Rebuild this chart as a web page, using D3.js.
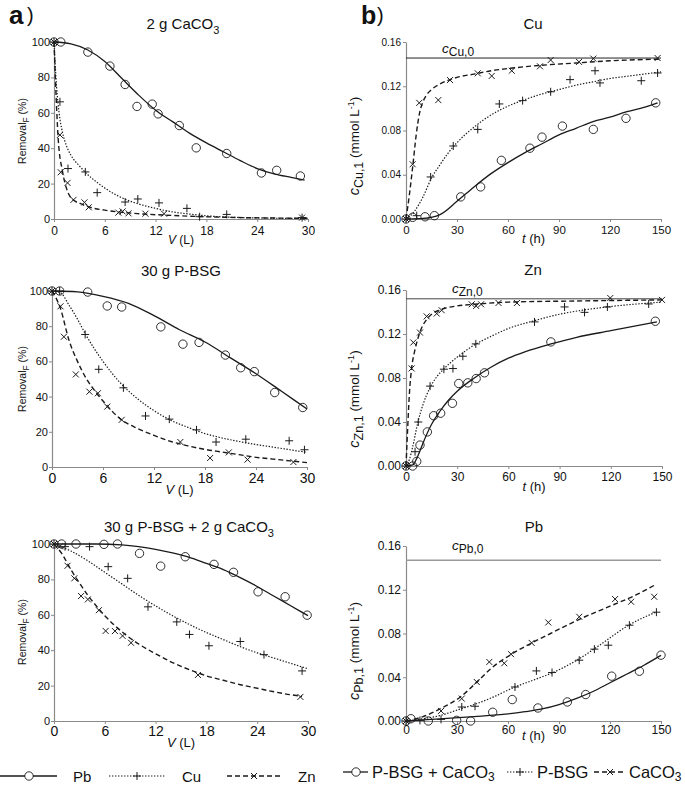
<!DOCTYPE html>
<html><head><meta charset="utf-8">
<script src="https://cdn.jsdelivr.net/npm/d3@7"></script>
<style>
body{margin:0;background:#fff}
svg{display:block}
text{font-family:"Liberation Sans",Arial,sans-serif;fill:#111}
</style>
</head><body><script>
// ---------- tick values ----------
const ticksV = [0, 6, 12, 18, 24, 30];
const ticksT = [0, 30, 60, 90, 120, 150];
const ticksR = [0, 20, 40, 60, 80, 100];
const ticksC = [0, 0.04, 0.08, 0.12, 0.16];

// ---------- panel a1: 2 g CaCO3 (V in L, RemovalF in %) ----------
const a1PbPts = [[0,100],[0.8,100],[4.0,94.3],[6.6,86.4],[8.4,76],[9.8,63.6],[11.6,64.9],[12.3,59.4],[14.8,52.8],[16.8,40.2],[20.4,37],[24.5,26],[26.3,27.5],[29.1,24.3]];
const a1PbFit = [[0,100],[2,99],[4,95.5],[6,89],[8,79.5],[10,70],[12,61.5],[14,55],[16,48.5],[18,43],[20,38],[22,33],[24,28.5],[26,25.5],[28,23.5],[29.6,22]];
const a1CuPts = [[0,100],[0.7,66.2],[1.65,28.5],[3.7,26.6],[5.1,14.9],[8.4,9.6],[9.9,11.3],[12.4,9.1],[15.7,6.0],[17.2,1.3],[20.4,2.6],[29.3,0.8]];
const a1CuFit = [[0,100],[0.3,75],[0.6,60],[1,49],[1.5,41],[2,36],[3,30],[4,25],[5,21],[6,17.5],[8,12],[10,8.5],[12,6],[14,4],[16,2.8],[18,1.8],[20,1.2],[24,0.6],[30,0.3]];
const a1ZnPts = [[0,100],[0.7,47.5],[0.8,26.4],[1.6,20.4],[2.3,10.8],[3.6,9.4],[4.1,6.6],[7.6,3.6],[8.1,4.3],[8.8,3.2],[10.8,3],[13,3],[29.3,0.8]];
const a1ZnFit = [[0,100],[0.2,75],[0.5,45],[1,27],[1.5,17],[2,12],[3,9],[4,7],[6,5],[8,3.8],[10,3],[14,2],[20,1],[30,0.4]];

// ---------- panel a2: 30 g P-BSG ----------
const a2PbPts = [[0,100],[0.9,100],[4.2,99.4],[6.5,91.5],[8.2,90.9],[12.8,79.6],[15.4,69.8],[17.3,70.8],[20.4,63.6],[22.2,56.4],[23.8,54.2],[26.2,42.3],[29.5,33.8]];
const a2PbFit = [[0,100],[3,99.5],[6,97],[9,93],[12,86],[15,78],[18,71],[21,62],[24,53],[27,43],[30,33]];
const a2CuPts = [[0,100],[0.9,100],[3.9,75.3],[5.5,55.5],[8.4,45],[11,29],[13.8,27.2],[17,21.1],[19.3,14.2],[22.8,15.8],[27.9,14.9],[29.7,9.8]];
const a2CuFit = [[0,100],[1,99],[2,92],[3,84],[4,75],[6,60],[8,48],[10,39],[12,32],[14,26.5],[16,22.5],[18,19],[20,16.5],[22,14.5],[24,12.8],[26,11.3],[28,9.8],[30,8.3]];
const a2ZnPts = [[0,100],[1.0,91.3],[1.4,74],[2.8,52.6],[4.4,42.8],[5.4,41.9],[6.5,34.3],[8.2,26.8],[15.1,14.2],[18.6,5.1],[20.8,8.3],[23,4.2],[28.4,2.8]];
const a2ZnFit = [[0,100],[1,90],[2,72],[3,60],[4,50.5],[5,43.5],[6,37.5],[8,27.5],[10,22],[12,18],[14,14.5],[16,12],[18,10],[20,8.5],[22,7],[24,5.5],[26,4.5],[28,3.5],[30,2.5]];

// ---------- panel a3: 30 g P-BSG + 2 g CaCO3 ----------
const a3PbPts = [[0,100],[0.9,100],[2.6,100],[5.9,99.8],[7.5,100],[10.1,94.7],[12.6,87.5],[15.5,92.8],[18.9,88.5],[21.2,84],[24.1,73],[27.3,70.2],[29.9,59.8]];
const a3PbFit = [[0,100],[5,100],[8,99.5],[10,98.5],[12,97],[14,95],[16,92.5],[18,89],[20,85.5],[22,81],[24,76],[26,70.5],[28,65],[30,59.5]];
const a3CuPts = [[0,100],[1.3,98.5],[4.2,98.5],[6.4,87.2],[8.7,80.6],[11.1,64.5],[14.5,56],[16,48.9],[18.3,42.5],[22,44.9],[24.8,37.5],[29.3,28.3]];
const a3CuFit = [[0,100],[2,96],[4,90.5],[6,84],[8,77.5],[10,71],[12,65],[14,59.5],[16,54.5],[18,50],[20,46],[22,42],[24,38.5],[26,35.5],[28,32.5],[30,29.5]];
const a3ZnPts = [[0,100],[0.7,98.7],[1.6,87.7],[2.4,80.6],[3.2,70.6],[4,68.7],[5.3,62.6],[6.1,50.9],[7.2,50.8],[8.1,48.1],[9.1,44.2],[17,26],[29.1,13.6]];
const a3ZnFit = [[0,100],[1,94],[2,85.5],[3,78],[4,71],[5,65],[6,59.5],[8,50.5],[10,43.5],[12,38],[14,33],[16,29],[18,25.5],[20,23],[22,20.5],[24,18.5],[26,16.5],[28,14.8],[29.3,14]];

// ---------- panel b1: Cu (t in h, c in mmol/L) ----------
const b1C0 = 0.1455;
const b1BothPts = [[0,0],[3.9,0.0015],[11.2,0.002],[16.7,0.003],[32.2,0.020],[43.9,0.029],[56.1,0.053],[72.9,0.064],[80,0.074],[92,0.084],[110.2,0.081],[129.4,0.091],[146.9,0.105]];
const b1BothFit = [[0,0],[10,0.0005],[20,0.004],[30,0.016],[40,0.029],[50,0.041],[60,0.051],[70,0.060],[80,0.068],[90,0.076],[100,0.082],[110,0.088],[120,0.092],[130,0.097],[140,0.101],[148,0.105]];
const b1BsgPts = [[0,0],[6.3,0.003],[14.5,0.038],[27.8,0.066],[42.2,0.081],[54.9,0.104],[68.6,0.107],[85.1,0.115],[96.5,0.126],[111.2,0.134],[114.1,0.123],[138.4,0.125],[148,0.132]];
const b1BsgFit = [[0,0],[5,0.007],[10,0.02],[15,0.037],[20,0.049],[25,0.060],[30,0.069],[40,0.083],[50,0.094],[60,0.102],[70,0.108],[80,0.113],[90,0.117],[100,0.121],[110,0.124],[120,0.127],[130,0.129],[140,0.131],[150,0.133]];
const b1CaPts = [[0,0],[3.9,0.0495],[7.8,0.105],[19,0.1075],[25.9,0.1256],[42.2,0.1317],[50.4,0.1293],[62.2,0.134],[78.8,0.138],[85.1,0.1437],[101.8,0.142],[110.2,0.145],[148,0.1455]];
const b1CaFit = [[0,0],[2,0.022],[4,0.048],[6,0.076],[8,0.096],[10,0.106],[12,0.112],[15,0.117],[20,0.122],[30,0.128],[40,0.131],[50,0.134],[60,0.136],[80,0.139],[100,0.141],[120,0.143],[150,0.1445]];

// ---------- panel b2: Zn ----------
const b2C0 = 0.152;
const b2BothPts = [[0,0],[3.9,0],[6.3,0.0042],[8.2,0.019],[12.5,0.031],[16.2,0.0457],[20.3,0.048],[27.2,0.057],[30.9,0.075],[36.2,0.0756],[41.1,0.0795],[46,0.0847],[84.9,0.1128],[146.1,0.1316]];
const b2BothFit = [[0,0],[4,0.001],[6,0.006],[8,0.013],[10,0.021],[15,0.038],[20,0.050],[25,0.060],[30,0.068],[40,0.080],[50,0.090],[60,0.098],[70,0.104],[85,0.111],[100,0.117],[120,0.123],[147,0.131]];
const b2BsgPts = [[0,0],[5.3,0.013],[7.2,0.040],[14.1,0.0726],[22.2,0.088],[27.5,0.0886],[33.3,0.0998],[40.9,0.111],[75.3,0.131],[92.9,0.1446],[104.6,0.1397],[118,0.1446],[142.2,0.1473]];
const b2BsgFit = [[0,0],[2,0.006],[4,0.018],[7,0.040],[10,0.056],[14,0.071],[18,0.081],[22,0.088],[30,0.099],[40,0.110],[50,0.118],[60,0.125],[75,0.132],[90,0.138],[105,0.142],[120,0.145],[150,0.149]];
const b2CaPts = [[0,0],[3.3,0.0887],[4.3,0.1123],[8.2,0.1213],[12.1,0.136],[18,0.1386],[20.9,0.1416],[38.5,0.147],[41.1,0.1455],[44,0.147],[54.2,0.1482],[65,0.1482],[119.7,0.1527],[150,0.151]];
const b2CaFit = [[0,0],[1,0.035],[2,0.066],[3.3,0.089],[5,0.104],[7,0.116],[9,0.125],[12,0.133],[15,0.138],[20,0.142],[30,0.1455],[40,0.147],[60,0.149],[100,0.150],[150,0.151]];

// ---------- panel b3: Pb ----------
const b3C0 = 0.147;
const b3BothPts = [[0,0],[2.9,0.0021],[13.1,0],[29.8,0.0006],[38,0],[51,0.008],[62.5,0.0196],[77.6,0.0119],[94.9,0.0174],[105.7,0.0242],[121,0.041],[137.3,0.0455],[150,0.0602]];
const b3BothFit = [[0,0],[20,0.002],[40,0.004],[60,0.0065],[70,0.0085],[80,0.011],[90,0.015],[100,0.0205],[110,0.027],[120,0.035],[130,0.043],[140,0.051],[150,0.060]];
const b3BsgPts = [[0,0],[8.2,0.0006],[20.6,0.0015],[32.8,0.0128],[40.6,0.0135],[64.1,0.0311],[76.7,0.0458],[85.9,0.0443],[101.9,0.0556],[110.8,0.0657],[119,0.0693],[131.4,0.0876],[147.3,0.0995]];
const b3BsgFit = [[0,0],[10,0.002],[20,0.005],[32,0.011],[40,0.015],[50,0.021],[64,0.031],[76,0.038],[86,0.044],[102,0.057],[115,0.0705],[131,0.0876],[147,0.0995]];
const b3CaPts = [[0,0],[20.6,0.0092],[32.8,0.0205],[41.6,0.0357],[49,0.054],[57.8,0.0528],[61.8,0.0611],[73.9,0.0714],[83.7,0.0901],[101.9,0.0953],[123,0.1115],[132.4,0.109],[146,0.1136]];
const b3CaFit = [[0,0],[10,0.004],[20,0.011],[32,0.022],[42,0.036],[50,0.048],[62,0.061],[74,0.0714],[85,0.080],[102,0.093],[120,0.105],[135,0.115],[146,0.124]];

// ---------- legend labels ----------
const legendLeft = ["Pb", "Cu", "Zn"];
const legendRight = [[{t:"P-BSG + CaCO"},{t:"3",sub:1,sh:2.5}], [{t:"P-BSG"}], [{t:"CaCO"},{t:"3",sub:1,sh:2.5}]];

// =====================================================================
const svg = d3.select("body").append("svg").attr("width", 685).attr("height", 785);
const INK = "#1a1a1a", AX = "#8a8a8a";
const styles = {
  circle: {dash: null, w: 1.3},
  plus:   {dash: "1.4,1.6", w: 1.2},
  cross:  {dash: "5,3", w: 1.4}
};

function drawMarker(g, type, x, y) {
  if (type === "circle") {
    g.append("circle").attr("cx", x).attr("cy", y).attr("r", 4.2)
      .attr("fill", "none").attr("stroke", INK).attr("stroke-width", 0.9);
  } else if (type === "plus") {
    g.append("path").attr("d", `M${x-4},${y}H${x+4}M${x},${y-4}V${y+4}`)
      .attr("stroke", INK).attr("stroke-width", 1).attr("fill", "none");
  } else {
    g.append("path").attr("d", `M${x-3},${y-3}L${x+3},${y+3}M${x-3},${y+3}L${x+3},${y-3}`)
      .attr("stroke", INK).attr("stroke-width", 1).attr("fill", "none");
  }
}

function richText(sel, segs, size, subSize) {
  segs.forEach((s, i) => {
    const ts = sel.append("tspan").text(s.t);
    if (s.it) ts.attr("font-style", "italic");
    if (s.sub) {
      ts.attr("font-size", s.size || subSize).attr("dy", s.sh || size * 0.3);
    } else if (s.sup) {
      ts.attr("font-size", s.size || subSize).attr("dy", -(s.sh || size * 0.4));
    } else {
      ts.attr("font-size", s.size || size);
      const prev = segs[i-1];
      if (prev && prev.sub) ts.attr("dy", -(prev.sh || size * 0.3));
      if (prev && prev.sup) ts.attr("dy", (prev.sh || size * 0.4));
    }
  });
  return sel;
}

function drawPanel(p) {
  const x = d3.scaleLinear().domain(p.xDomain).range([p.left, p.right]);
  const y = d3.scaleLinear().domain(p.yDomain).range([p.bottom, p.top]);
  const g = svg.append("g");

  const xa = g.append("g").attr("transform", `translate(0,${p.bottom})`)
    .call(d3.axisBottom(x).tickValues(p.xTicks).tickSize(3).tickSizeOuter(0).tickPadding(p.xPad).tickFormat(d3.format("d")));
  const ya = g.append("g").attr("transform", `translate(${p.left},0)`)
    .call(d3.axisLeft(y).tickValues(p.yTicks).tickSize(3).tickSizeOuter(0).tickPadding(p.yPad).tickFormat(p.yFmt));
  [xa, ya].forEach(a => {
    a.select(".domain").attr("stroke", AX).attr("stroke-width", 1.2);
    a.selectAll(".tick line").attr("stroke", AX);
    a.selectAll(".tick text").attr("fill", "#111").attr("font-family", "Liberation Sans, Arial, sans-serif");
  });
  xa.selectAll(".tick text").attr("font-size", p.xFont);
  ya.selectAll(".tick text").attr("font-size", p.yFont);

  if (p.c0 !== undefined) {
    g.append("line").attr("x1", p.left).attr("x2", p.right)
      .attr("y1", y(p.c0)).attr("y2", y(p.c0))
      .attr("stroke", p.c0Color).attr("stroke-width", p.c0W);
    richText(g.append("text").attr("x", p.c0x).attr("y", y(p.c0) - p.c0dy),
      [{t:"c", it:1}, {t:p.c0sub, sub:1, sh:3}], 13.5, 12);
  }

  const line = d3.line().x(d => x(d[0])).y(d => y(d[1])).curve(d3.curveMonotoneX);
  p.series.forEach(s => {
    const st = styles[s.type];
    g.append("path").datum(s.fit).attr("d", line).attr("fill", "none")
      .attr("stroke", INK).attr("stroke-width", st.w)
      .attr("stroke-dasharray", st.dash);
  });
  p.series.forEach(s => {
    const mg = g.append("g");
    s.pts.forEach(d => drawMarker(mg, s.type, x(d[0]), y(d[1])));
  });

  richText(g.append("text").attr("x", p.titleX).attr("y", p.titleY).attr("text-anchor", "middle"),
    p.title, 15, 11);
  richText(g.append("text").attr("x", (p.left + p.right) / 2).attr("y", p.xLabY).attr("text-anchor", "middle"),
    p.xLab, p.xLabFont, p.xLabFont);
  richText(g.append("text").attr("transform", `translate(${p.yLabX},${p.yLabY}) rotate(-90)`).attr("text-anchor", "middle"),
    p.yLab, p.yLabFont, p.yLabFont * 0.8);
}

const fmtInt = d3.format("d"), fmtC = d3.format(".2f");
const labV = [{t:"V", it:1}, {t:" (L)"}];
const labT = [{t:"t", it:1}, {t:" (h)"}];
const labR = [{t:"Removal"}, {t:"F", sub:1, sh:2.5}, {t:" (%)"}];
function labC(el) { return [{t:"c", it:1, size:14.5}, {t:el + ",1", sub:1, sh:3.5, size:12.5}, {t:" (mmol L"}, {t:"-1", sup:1, sh:5, size:9}, {t:")"}]; }

const panels = [
  {left:54, right:308, top:42, bottom:219, xDomain:[0,30], yDomain:[0,100], xTicks:ticksV, yTicks:ticksR, yFmt:fmtInt,
   xFont:12, yFont:11, xPad:4, yPad:1, title:[{t:"2 g CaCO"},{t:"3",sub:1}], titleX:183, titleY:29,
   xLab:labV, xLabY:244, xLabFont:12, yLab:labR, yLabX:26, yLabY:131, yLabFont:10.5,
   series:[{type:"circle", pts:a1PbPts, fit:a1PbFit},{type:"plus", pts:a1CuPts, fit:a1CuFit},{type:"cross", pts:a1ZnPts, fit:a1ZnFit}]},
  {left:52, right:307, top:291, bottom:467, xDomain:[0,30], yDomain:[0,100], xTicks:ticksV, yTicks:ticksR, yFmt:fmtInt,
   xFont:14, yFont:11, xPad:3, yPad:1, title:[{t:"30 g P-BSG"}], titleX:181, titleY:276,
   xLab:labV, xLabY:494, xLabFont:13, yLab:labR, yLabX:26, yLabY:379, yLabFont:10.5,
   series:[{type:"circle", pts:a2PbPts, fit:a2PbFit},{type:"plus", pts:a2CuPts, fit:a2CuFit},{type:"cross", pts:a2ZnPts, fit:a2ZnFit}]},
  {left:54, right:308, top:544, bottom:721, xDomain:[0,30], yDomain:[0,100], xTicks:ticksV, yTicks:ticksR, yFmt:fmtInt,
   xFont:14, yFont:11, xPad:2, yPad:1, title:[{t:"30 g P-BSG + 2 g CaCO"},{t:"3",sub:1}], titleX:189, titleY:532,
   xLab:labV, xLabY:747, xLabFont:13, yLab:labR, yLabX:26, yLabY:632, yLabFont:10.5,
   series:[{type:"circle", pts:a3PbPts, fit:a3PbFit},{type:"plus", pts:a3CuPts, fit:a3CuFit},{type:"cross", pts:a3ZnPts, fit:a3ZnFit}]},
  {left:406, right:661, top:42, bottom:219, xDomain:[0,150], yDomain:[0,0.16], xTicks:ticksT, yTicks:ticksC, yFmt:fmtC,
   xFont:11.5, yFont:10, xPad:4, yPad:2, title:[{t:"Cu"}], titleX:533, titleY:29,
   xLab:labT, xLabY:243, xLabFont:13, yLab:labC("Cu"), yLabX:359, yLabY:146, yLabFont:13.5,
   c0:b1C0, c0sub:"Cu,0", c0x:442, c0dy:5, c0Color:"#222", c0W:1,
   series:[{type:"circle", pts:b1BothPts, fit:b1BothFit},{type:"plus", pts:b1BsgPts, fit:b1BsgFit},{type:"cross", pts:b1CaPts, fit:b1CaFit}]},
  {left:406, right:662, top:290, bottom:466, xDomain:[0,150], yDomain:[0,0.16], xTicks:ticksT, yTicks:ticksC, yFmt:fmtC,
   xFont:12, yFont:12, xPad:3, yPad:2, title:[{t:"Zn"}], titleX:533, titleY:275,
   xLab:labT, xLabY:491, xLabFont:13, yLab:labC("Zn"), yLabX:359, yLabY:399, yLabFont:13.5,
   c0:b2C0, c0sub:"Zn,0", c0x:452, c0dy:5.5, c0Color:"#444", c0W:1,
   series:[{type:"circle", pts:b2BothPts, fit:b2BothFit},{type:"plus", pts:b2BsgPts, fit:b2BsgFit},{type:"cross", pts:b2CaPts, fit:b2CaFit}]},
  {left:406, right:661, top:546, bottom:721, xDomain:[0,150], yDomain:[0,0.16], xTicks:ticksT, yTicks:ticksC, yFmt:fmtC,
   xFont:12, yFont:12, xPad:1, yPad:2, title:[{t:"Pb"}], titleX:534, titleY:532,
   xLab:labT, xLabY:740, xLabFont:13, yLab:labC("Pb"), yLabX:359, yLabY:651, yLabFont:13.5,
   c0:b3C0, c0sub:"Pb,0", c0x:452, c0dy:10, c0Color:"#999", c0W:1.5,
   series:[{type:"circle", pts:b3BothPts, fit:b3BothFit},{type:"plus", pts:b3BsgPts, fit:b3BsgFit},{type:"cross", pts:b3CaPts, fit:b3CaFit}]}
];
panels.forEach(drawPanel);

// panel letters
svg.append("text").attr("x", 9).attr("y", 24).attr("font-size", 26).attr("font-weight", "bold").text("a");
svg.append("text").attr("x", 27).attr("y", 22).attr("font-size", 20).text(")");
svg.append("text").attr("x", 361).attr("y", 24).attr("font-size", 25).attr("font-weight", "bold").text("b");
svg.append("text").attr("x", 377).attr("y", 22).attr("font-size", 20).text(")");

// legends
const types = ["circle", "plus", "cross"];
function legendSample(g, type, x1, x2, xm, yy) {
  const st = styles[type];
  g.append("line").attr("x1", x1).attr("x2", x2).attr("y1", yy).attr("y2", yy)
    .attr("stroke", INK).attr("stroke-width", st.w).attr("stroke-dasharray", st.dash);
  if (type === "circle") {
    g.append("circle").attr("cx", xm).attr("cy", yy).attr("r", 4.2).attr("fill", "#fff").attr("stroke", INK).attr("stroke-width", 0.9);
  } else drawMarker(g, type, xm, yy);
}
const lg = svg.append("g");
const leftPos = [[0,57,29,73],[109,166,137,182],[227,282,254,298]];
legendLeft.forEach((t, i) => {
  const [a, b, m, tx] = leftPos[i];
  legendSample(lg, types[i], a, b, m, 776);
  lg.append("text").attr("x", tx).attr("y", 782).attr("font-size", 15).text(t);
});
const rightPos = [[343,368,356,372],[507,533,520,537],[594,625,610,629]];
legendRight.forEach((segs, i) => {
  const [a, b, m, tx] = rightPos[i];
  legendSample(lg, types[i], a, b, m, 772);
  richText(lg.append("text").attr("x", tx).attr("y", 778), segs, 16.5, 12);
});
</script></body></html>
